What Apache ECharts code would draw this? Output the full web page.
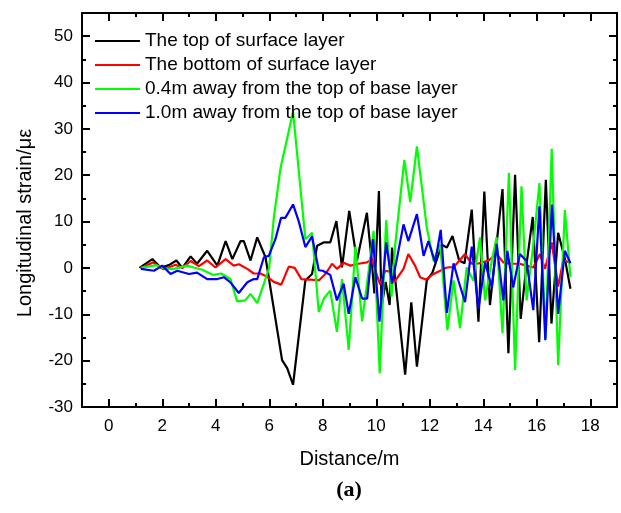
<!DOCTYPE html>
<html>
<head>
<meta charset="utf-8">
<script src="https://cdn.jsdelivr.net/npm/echarts@6/dist/echarts.min.js"></script>
<style>
html,body{margin:0;padding:0;background:#fff;}
#chart{width:621px;height:513px;}
</style>
</head>
<body>
<div id="chart"></div>
<script>
const seriesNames = [
  'The top of surface layer',
  'The bottom of surface layer',
  '0.4m away from the top of base layer',
  '1.0m away from the top of base layer'
];
const seriesColors = ['#000000', '#ff0000', '#00ff00', '#0000ff'];

const xMajorTicks = [0, 2, 4, 6, 8, 10, 12, 14, 16, 18];
const xMinorTicks = [1, 3, 5, 7, 9, 11, 13, 15, 17];
const yMajorTicks = [-30, -20, -10, 0, 10, 20, 30, 40, 50];
const yMinorTicks = [-25, -15, -5, 5, 15, 25, 35, 45];

const blackX = [1.15,1.63,1.94,2.25,2.53,2.75,3.06,3.3,3.68,4.06,4.37,4.62,4.93,5.05,5.3,5.55,5.86,6.48,6.67,6.89,7.35,7.6,7.79,8.03,8.28,8.51,8.72,8.99,9.28,9.65,9.84,9.93,10.1,10.2,10.35,10.5,10.59,10.7,11.08,11.31,11.52,11.89,12.1,12.45,12.64,12.85,13.1,13.3,13.57,13.82,14.04,14.25,14.72,14.94,15.19,15.4,15.62,15.85,16.09,16.34,16.55,16.8,17.05,17.26];
const blackY = [0,1.9,0.1,0.6,1.6,0,2.5,0.9,3.7,0.5,5.8,1.9,5.8,5.8,1.6,6.6,2.3,-19.9,-21.6,-25.2,-2.7,-1.3,4.8,5.5,5.5,10.1,0.1,12.3,1.6,11.9,0.9,-5.5,16.6,-8.4,-3,-8,4.4,-2,-23,-7.4,-21.3,-2.7,-1,5,4.4,6.9,1.6,1,12.6,-11.6,16.5,-8,17,-18.4,20.1,-11,0.9,11,-16,19,-12,7.6,2,-4.5];

const redX = [1.2,1.65,2.05,2.5,2.75,3.06,3.37,3.68,3.99,4.37,4.67,4.87,5.18,5.42,5.67,5.92,6.17,6.45,6.73,6.95,7.2,7.5,7.85,8.1,8.35,8.53,8.78,9.03,9.34,9.65,9.84,10.05,10.15,10.34,10.5,10.68,11.02,11.2,11.45,11.64,11.85,12.14,12.39,12.64,12.9,13.32,13.57,13.85,14.19,14.5,14.75,15.0,15.37,15.6,15.87,16.12,16.31,16.56,16.8,16.99,17.24];
const redY = [0,1.2,-0.3,0.7,0,1.5,0.4,1.6,0.1,1.9,0.5,0.8,-0.2,-1.2,-1.2,-1.9,-3,-3.6,0.3,0,-2.4,-2.5,-2.7,-1.3,0.9,-0.2,1.1,0.5,0.9,1.2,1.9,-2,-3.6,-0.6,-0.8,-3,-0.2,3,0.5,-2,-2.5,-1.3,-0.6,0.1,0.2,3,0.9,1.0,1.6,3,1.2,0.9,0.9,0.5,0.1,3,-0.2,5.5,-4,1.6,1.2];

const greenX = [1.2,1.78,2.13,2.44,2.93,3.18,3.5,3.9,4.2,4.55,4.8,5.1,5.3,5.55,5.8,6.0,6.17,6.42,6.67,6.89,7.35,7.6,7.85,8.05,8.28,8.53,8.72,8.97,9.22,9.47,9.75,9.9,10.13,10.37,10.57,10.71,11.05,11.27,11.52,11.89,12.14,12.39,12.66,12.89,13.13,13.38,13.63,13.88,14.07,14.32,14.5,14.72,14.96,15.19,15.43,15.62,15.87,16.1,16.33,16.56,16.8,17.05,17.26];
const greenY = [0,0.6,-0.2,-0.2,0.5,0.1,-0.4,-1.5,-1.2,-2.4,-7.2,-7,-5.6,-7.6,-3.4,0.1,10.8,21.5,28,33.7,6.2,7.6,-9.5,-6.5,-4.9,-13.8,-2.4,-17.7,4.6,-11.5,0.9,8,-22.7,10.3,-6.2,5.1,23.3,14.2,26.2,8.7,1.6,5,-13.4,-2.7,-13,0.1,-2.7,6.6,-7,1.6,6.6,-14.1,20.5,-22,17.6,-7,5,18.3,-15.2,25.7,-21,12.5,-2];

const blueX = [1.2,1.69,2.0,2.31,2.56,3.0,3.3,3.68,4.06,4.3,4.55,4.86,5.18,5.42,5.55,5.8,5.98,6.23,6.44,6.6,6.89,7.1,7.35,7.6,7.85,8.0,8.28,8.53,8.78,8.97,9.22,9.47,9.66,9.88,10.12,10.37,10.59,11.02,11.2,11.52,11.77,11.95,12.2,12.41,12.64,12.89,13.07,13.32,13.57,13.82,14.07,14.32,14.5,14.75,14.9,15.12,15.37,15.62,15.87,16.1,16.32,16.57,16.8,17.05,17.26];
const blueY = [-0.2,-0.6,0.5,-1.3,-0.6,-1.3,-1,-2.4,-2.4,-2,-3.1,-5.4,-3.1,-2.4,-2.4,2.3,2.6,6.2,10.8,10.8,13.7,10.1,4.5,6.8,-0.5,-0.6,-1.5,-7,-3.4,-9.9,-2,-6.6,-6.6,6.2,-11.6,5.5,-3.4,9.4,5.8,11.6,2.6,5.8,1.2,8.2,-9.7,1,-2.7,-7.4,4.6,-8.8,1.2,-4.2,5.2,-7,3.7,-4.2,3,1.5,-9.1,13.3,-15.6,13.7,-9.9,3.7,1];

function pairs(xs, ys) { return xs.map((x, i) => [x, ys[i]]); }
const seriesData = [pairs(blackX, blackY), pairs(redX, redY), pairs(greenX, greenY), pairs(blueX, blueY)];

const FONT = '"Liberation Sans", Arial, sans-serif';
const X_MIN = -1, X_MAX = 19, Y_MIN = -30, Y_MAX = 55;

function xAx(pos, ticks, len, showLabels, showLine) {
  return {
    type: 'value', position: pos, min: X_MIN, max: X_MAX,
    axisLine: { show: showLine, onZero: false, lineStyle: { color: '#000', width: 2 } },
    axisTick: { show: true, inside: true, length: len, customValues: ticks, lineStyle: { color: '#000', width: 2 } },
    axisLabel: showLabels ? { show: true, customValues: ticks, margin: 11, color: '#000', fontSize: 17, fontFamily: FONT } : { show: false },
    splitLine: { show: false },
    name: (pos === 'bottom' && showLabels) ? 'Distance/m' : '',
    nameLocation: 'middle', nameGap: 42,
    nameTextStyle: { color: '#000', fontSize: 20, fontFamily: FONT }
  };
}
function yAx(pos, ticks, len, showLabels, showLine) {
  return {
    type: 'value', position: pos, min: Y_MIN, max: Y_MAX,
    axisLine: { show: showLine, onZero: false, lineStyle: { color: '#000', width: 2 } },
    axisTick: { show: true, inside: true, length: len, customValues: ticks, lineStyle: { color: '#000', width: 2 } },
    axisLabel: showLabels ? { show: true, customValues: ticks, margin: 9, color: '#000', fontSize: 17, fontFamily: FONT } : { show: false },
    splitLine: { show: false }
  };
}

const chart = echarts.init(document.getElementById('chart'), null, { renderer: 'canvas' });
chart.setOption({
  animation: false,
  backgroundColor: '#fff',
  grid: { left: 82, right: 4, top: 13, bottom: 106, containLabel: false },
  xAxis: [
    xAx('bottom', xMajorTicks, 8, true, true),
    xAx('bottom', xMinorTicks, 4, false, false),
    xAx('top', xMajorTicks, 8, false, true),
    xAx('top', xMinorTicks, 4, false, false)
  ],
  yAxis: [
    yAx('left', yMajorTicks, 8, true, true),
    yAx('left', yMinorTicks, 4, false, false),
    yAx('right', yMajorTicks, 8, false, true),
    yAx('right', yMinorTicks, 4, false, false)
  ],
  legend: {
    orient: 'vertical', left: 90, top: 26,
    icon: 'rect', itemWidth: 45, itemHeight: 2, itemGap: 4,
    selectedMode: false,
    textStyle: { color: '#000', fontSize: 19, fontFamily: FONT, lineHeight: 20 },
    data: seriesNames
  },
  graphic: [
    {
      type: 'text', x: 25, y: 223, rotation: Math.PI / 2,
      style: { text: 'Longitudinal strain/\u03bc\u03b5', fontSize: 20, fontFamily: FONT, fill: '#000', align: 'center', verticalAlign: 'middle' }
    },
    {
      type: 'text', x: 349, y: 490,
      style: { text: '(a)', fontSize: 22, fontWeight: 'bold', fontFamily: '"Liberation Serif", "Times New Roman", serif', fill: '#000', align: 'center', verticalAlign: 'middle' }
    }
  ],
  series: seriesNames.map((n, i) => ({
    name: n, type: 'line', data: seriesData[i], xAxisIndex: 0, yAxisIndex: 0,
    symbol: 'none', showSymbol: false, clip: true,
    color: seriesColors[i],
    lineStyle: { color: seriesColors[i], width: 2.2 }
  }))
});
</script>
</body>
</html>
